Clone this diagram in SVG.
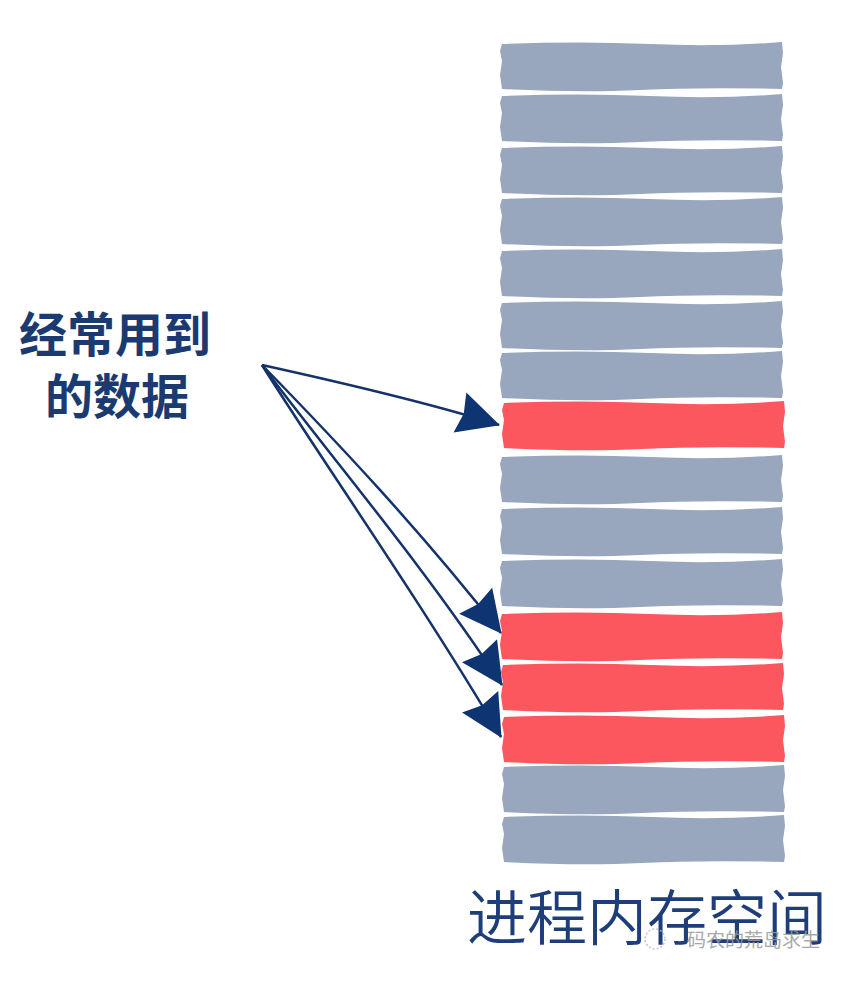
<svg xmlns="http://www.w3.org/2000/svg" width="856" height="988" viewBox="0 0 856 988">
<defs>
<style>
.g{fill:#98a7bd}
.r{fill:#fc575e}
.lbl{font-family:"Noto Sans CJK SC","Noto Sans",sans-serif;font-weight:700;font-size:48px;fill:#1b3b70}
.ttl{font-family:"Noto Sans CJK SC","Noto Sans",sans-serif;font-weight:350;font-size:60px;fill:#1d3e78}
.wm{font-family:"Noto Sans CJK SC","Noto Sans",sans-serif;font-size:19px;fill:#9a9a9a}
.arr{fill:none;stroke:#14336b;stroke-width:2.5;marker-end:url(#ah)}
</style>
<marker id="ah" markerUnits="userSpaceOnUse" markerWidth="46" markerHeight="46" viewBox="-43 -23 46 46" refX="0" refY="0" orient="auto">
<path d="M1,0 L-41,-21 L-37,0 L-41,21 Z" fill="#0f3472"/>
</marker>
<path id="bar" d="M2,1 Q80,-2 150,1 T282,-1 L283,10 L281,24 L283,40 L282,46 Q200,44 140,47 T2,46 L0,32 L2,18 L0,8 Z"/>
</defs>
<rect width="856" height="988" fill="#fff"/>
<g id="memory">
<use href="#bar" class="g" x="500" y="43"/>
<use href="#bar" class="g" x="500" y="95"/>
<use href="#bar" class="g" x="500" y="147"/>
<use href="#bar" class="g" x="500" y="198"/>
<use href="#bar" class="g" x="500" y="250"/>
<use href="#bar" class="g" x="500" y="302"/>
<use href="#bar" class="g" x="500" y="352"/>
<use href="#bar" class="r" x="502" y="402"/>
<use href="#bar" class="g" x="500" y="456"/>
<use href="#bar" class="g" x="500" y="508"/>
<use href="#bar" class="g" x="500" y="560"/>
<use href="#bar" class="r" x="500" y="613"/>
<use href="#bar" class="r" x="501" y="664"/>
<use href="#bar" class="r" x="502" y="716"/>
<use href="#bar" class="g" x="502" y="766"/>
<use href="#bar" class="g" x="502" y="816"/>
</g>
<g id="label">
<text class="lbl" text-anchor="middle"><tspan x="115" y="352">经常用到</tspan><tspan x="117" y="414">的数据</tspan></text>
</g>
<g id="connectors">
<path class="arr" d="M262,365 C330,380 430,403 499,425"/>
<path class="arr" d="M262,365 C340,445 420,530 501,633"/>
<path class="arr" d="M262,365 C325,450 420,560 502,685"/>
<path class="arr" d="M262,365 C315,450 420,600 501,737"/>
</g>
<g id="title">
<text class="ttl" x="647" y="940" text-anchor="middle">进程内存空间</text>
</g>
<g id="watermark" opacity="0.85">
<circle cx="655" cy="939" r="10" fill="none" stroke="#bbb" stroke-width="1.5" stroke-dasharray="2 2"/>
<text class="wm" x="687" y="947">码农的荒岛求生</text>
</g>
</svg>
